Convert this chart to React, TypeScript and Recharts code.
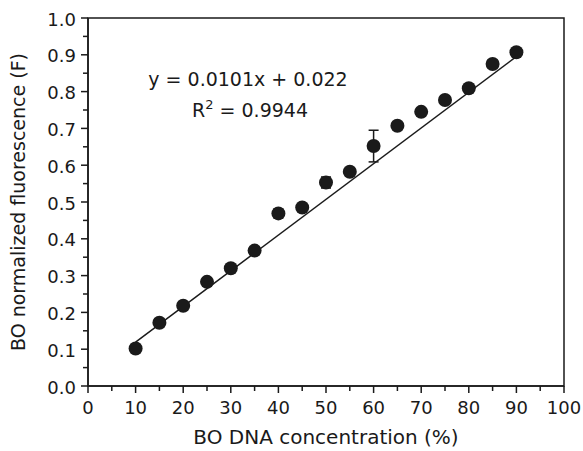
import { ScatterChart, Scatter, XAxis, YAxis, ErrorBar, ReferenceArea } from 'recharts';

const concentration = [10, 15, 20, 25, 30, 35, 40, 45, 50, 55, 60, 65, 70, 75, 80, 85, 90];
const fluorescence = [0.102, 0.172, 0.218, 0.283, 0.320, 0.368, 0.469, 0.485, 0.553, 0.582, 0.652, 0.707, 0.745, 0.777, 0.809, 0.875, 0.907];
const errors = [0.008, 0.01, 0.01, 0.01, 0.008, 0.01, 0.012, 0.008, 0.015, 0.008, 0.043, 0.008, 0.008, 0.008, 0.01, 0.01, 0.008];
const fitX = [10, 91];
const fitY = [0.119, 0.905];
const xTicks = [0, 5, 10, 15, 20, 25, 30, 35, 40, 45, 50, 55, 60, 65, 70, 75, 80, 85, 90, 95, 100];
const yTicks = [0, 0.05, 0.1, 0.15, 0.2, 0.25, 0.3, 0.35, 0.4, 0.45, 0.5, 0.55, 0.6, 0.65, 0.7, 0.75, 0.8, 0.85, 0.9, 0.95, 1.0];

const points = concentration.map((x, i) => ({ x, y: fluorescence[i], err: errors[i] }));
const fit = fitX.map((x, i) => ({ x, y: fitY[i] }));

const FONT = 'DejaVu Sans, sans-serif';
const INK = '#1a1a1a';

const XTick = (p: any) => {
  const v = p.payload.value;
  const major = Math.round(v) % 10 === 0;
  return (
    <g>
      <line x1={p.x} x2={p.x} y1={p.y} y2={p.y + (major ? 7 : 5)} stroke={INK} strokeWidth={1.5} />
      {major && (
        <text x={p.x} y={p.y + 21} textAnchor="middle" dominantBaseline="central" fontSize={18} fontFamily={FONT} fill={INK}>
          {v}
        </text>
      )}
    </g>
  );
};

const YTick = (p: any) => {
  const v = p.payload.value;
  const major = Math.round(v * 100) % 10 === 0;
  return (
    <g>
      <line x1={p.x - (major ? 7 : 5)} x2={p.x} y1={p.y} y2={p.y} stroke={INK} strokeWidth={1.5} />
      {major && (
        <text x={p.x - 12} y={p.y + 1} textAnchor="end" dominantBaseline="central" fontSize={18} fontFamily={FONT} fill={INK}>
          {v.toFixed(1)}
        </text>
      )}
    </g>
  );
};

const Dot = (p: any) => <circle cx={p.cx} cy={p.cy} r={7} fill={INK} />;

export default function App() {
  return (
    <div style={{ position: 'absolute', left: 0, top: 0, width: 583, height: 451, background: '#fff' }}>
      <ScatterChart width={583} height={451} margin={{ top: 18, right: 19, bottom: 0, left: 0 }}>
        <XAxis
          dataKey="x"
          type="number"
          domain={[0, 100]}
          ticks={xTicks}
          interval={0}
          height={65}
          tickSize={0}
          tickMargin={0}
          tickLine={false}
          tick={<XTick />}
          axisLine={{ stroke: INK, strokeWidth: 1.5 }}
          label={{ value: 'BO DNA concentration (%)', position: 'insideBottom', offset: 7, fill: INK, style: { fontSize: 20, fontFamily: FONT } }}
        />
        <YAxis
          dataKey="y"
          type="number"
          domain={[0, 1]}
          ticks={yTicks}
          interval={0}
          width={88}
          tickSize={0}
          tickMargin={0}
          tickLine={false}
          tick={<YTick />}
          axisLine={{ stroke: INK, strokeWidth: 1.5 }}
          label={{ value: 'BO normalized fluorescence (F)', angle: -90, position: 'insideLeft', offset: 18, fill: INK, style: { textAnchor: 'middle', fontSize: 19, fontFamily: FONT } }}
        />
        <ReferenceArea x1={0} x2={100} y1={0} y2={1} fill="none" stroke={INK} strokeWidth={1.5} ifOverflow="visible" />
        <Scatter data={fit} line={{ stroke: INK, strokeWidth: 1.5 }} shape={() => <g />} isAnimationActive={false} />
        <Scatter data={points} shape={<Dot />} isAnimationActive={false}>
          <ErrorBar dataKey="err" direction="y" width={5} stroke={INK} strokeWidth={1.5} isAnimationActive={false} />
        </Scatter>
      </ScatterChart>
      <svg width={583} height={451} style={{ position: 'absolute', left: 0, top: 0, pointerEvents: 'none' }}>
        <text x={248} y={86} textAnchor="middle" fontSize={19} fontFamily={FONT} fill={INK}>
          y = 0.0101x + 0.022
        </text>
        <text x={250} y={117} textAnchor="middle" fontSize={19} fontFamily={FONT} fill={INK}>
          R<tspan dy={-8} fontSize={13}>2</tspan>
          <tspan dy={8}> = 0.9944</tspan>
        </text>
      </svg>
    </div>
  );
}
